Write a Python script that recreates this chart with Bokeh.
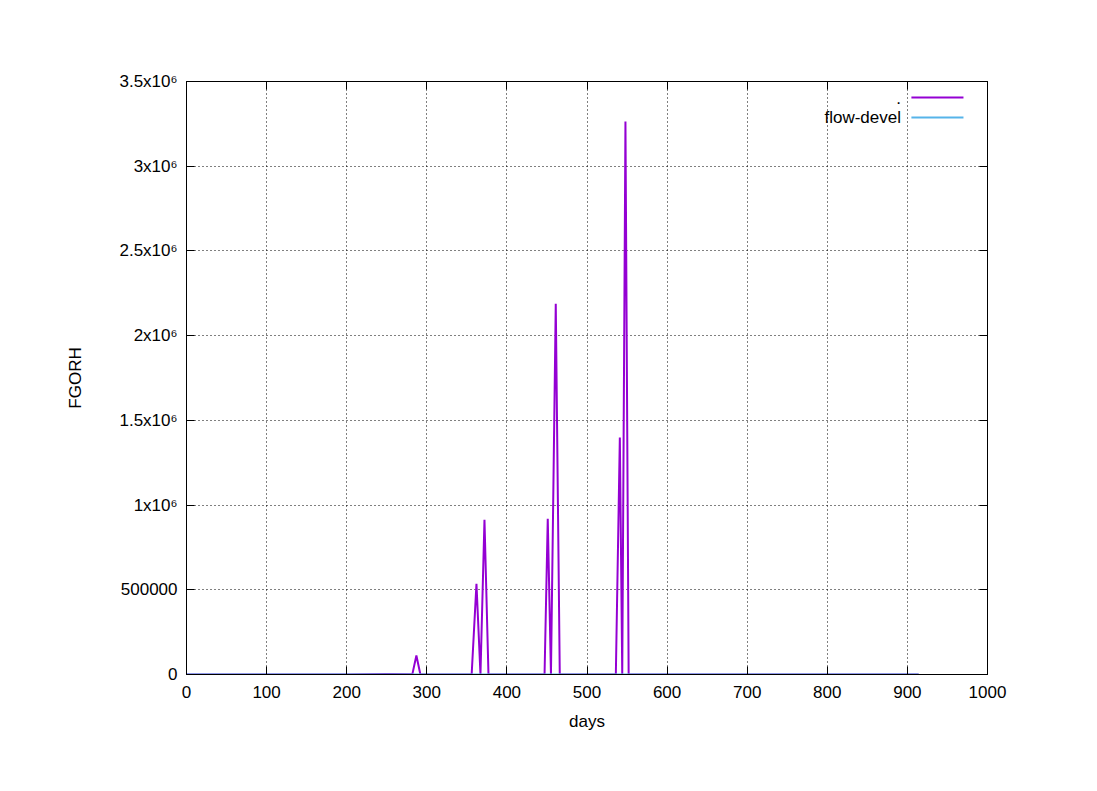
from bokeh.plotting import figure
from bokeh.models import LinearAxis, SingleIntervalTicker, Range1d, Label, CustomJSTickFormatter
from bokeh.embed import file_html
from bokeh.resources import INLINE

# ---- data ----
days_a = [0, 200, 250, 282, 287, 292, 356, 362, 367, 372, 377,
          447, 451, 455, 461, 466, 536, 541, 544, 548, 552, 914]
fgorh_a = [0, 0, 3000, 2000, 112000, 0, 0, 535000, 0, 913000, 0,
           0, 919000, 0, 2188000, 0, 0, 1399000, 0, 3264000, 0, 0]
days_b = [0, 200, 400, 600, 800, 914]
fgorh_b = [0, 0, 0, 0, 0, 0]
series_names = [".", "flow-devel"]
y_ticks = [0, 500000, 1000000, 1500000, 2000000, 2500000, 3000000, 3500000]
y_tick_labels = ["0", "500000", "1x10⁶", "1.5x10⁶", "2x10⁶", "2.5x10⁶", "3x10⁶", "3.5x10⁶"]

# ---- style ----
PURPLE = "#9400D3"
BLUE = "#56B4E9"
FONT = "Liberation Sans"
FS = "17px"

p = figure(width=1080, height=774, output_backend="svg", toolbar_location=None,
           x_range=Range1d(0, 1000), y_range=Range1d(0, 3500000),
           min_border_left=186, min_border_right=93, min_border_top=81, min_border_bottom=100)
p.background_fill_color = "white"
p.border_fill_color = "white"
p.outline_line_color = "black"
p.outline_line_width = 1

xt = SingleIntervalTicker(interval=100, num_minor_ticks=0)
yt = SingleIntervalTicker(interval=500000, num_minor_ticks=0)
p.xaxis.ticker = xt
p.yaxis.ticker = yt
p.yaxis.major_label_overrides = {v: s for v, s in zip(y_ticks, y_tick_labels)}

for ax in (p.xaxis[0], p.yaxis[0]):
    ax.axis_line_color = "black"
    ax.major_tick_in = 8
    ax.major_tick_out = 0
    ax.minor_tick_line_color = None
    ax.major_label_text_font = FONT
    ax.major_label_text_font_size = FS
    ax.major_label_text_color = "black"
    ax.axis_label_text_font = FONT
    ax.axis_label_text_font_size = FS
    ax.axis_label_text_font_style = "normal"
    ax.axis_label_text_color = "black"

p.xaxis.axis_label = "days"
p.yaxis.axis_label = "FGORH"
p.xaxis.major_label_standoff = 11
p.xaxis.axis_label_standoff = 11
p.yaxis.major_label_standoff = 9
p.yaxis.axis_label_standoff = 31

blank = CustomJSTickFormatter(code="return '';")
top = LinearAxis(ticker=xt, formatter=blank, major_tick_in=8, major_tick_out=0,
                 minor_tick_line_color=None, axis_line_color="black")
right = LinearAxis(ticker=yt, formatter=blank, major_tick_in=8, major_tick_out=0,
                   minor_tick_line_color=None, axis_line_color="black")
p.add_layout(top, "above")
p.add_layout(right, "right")

p.xgrid.ticker = xt
p.ygrid.ticker = yt
for g in (p.xgrid[0], p.ygrid[0]):
    g.grid_line_color = "black"
    g.grid_line_dash = "1 3"
    g.grid_line_width = 1
    g.grid_line_alpha = 1

p.line(days_a, fgorh_a, line_color=PURPLE, line_width=2)
p.line(days_b, fgorh_b, line_color=BLUE, line_width=2)

# legend (gnuplot style: label then sample)
leg_text_x = 892
leg_x0, leg_x1 = 905, 970
leg_y = [3405000, 3288000]
for name, col, yy in zip(series_names, [PURPLE, BLUE], leg_y):
    p.add_layout(Label(x=leg_text_x, y=yy, text=name, text_align="right",
                       text_baseline="middle", text_font=FONT, text_font_size=FS,
                       text_color="black"))
    p.line([leg_x0, leg_x1], [yy, yy], line_color=col, line_width=2)

open("out.html", "w").write(file_html(p, INLINE))
